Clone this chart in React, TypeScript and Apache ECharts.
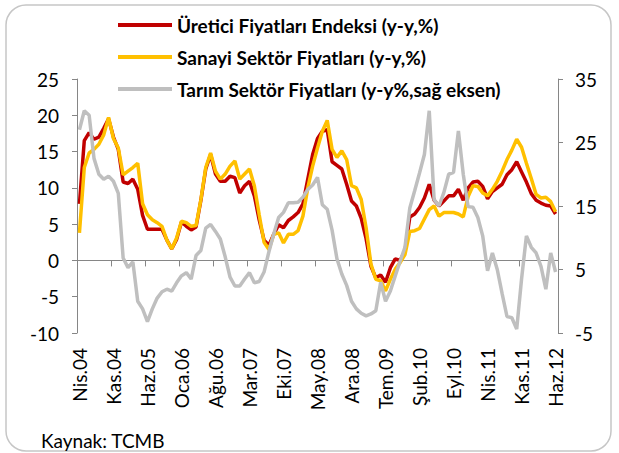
import React, { useEffect, useRef } from "react";
import * as echarts from "echarts";

const MONTHS = ["Oca", "Şub", "Mar", "Nis", "May", "Haz", "Tem", "Ağu", "Eyl", "Eki", "Kas", "Ara"];
const START_YEAR = 2004;
const START_MONTH = 3; // Nisan
const N_MONTHS = 99;
const categories: string[] = [];
for (let i = 0; i < N_MONTHS; i++) {
  const m = START_MONTH + i;
  const y = START_YEAR + Math.floor(m / 12);
  categories.push(MONTHS[m % 12] + "." + String(y % 100).padStart(2, "0"));
}

const ufe = [
  7.8, 16.5, 17.6, 16.7, 17.0, 18.2, 19.5, 17.0, 15.3, 10.8,
  10.6, 11.2, 9.8, 6.2, 4.3, 4.3, 4.3, 4.3, 2.8, 1.6,
  2.9, 5.3, 4.7, 4.2, 4.6, 8.3, 12.6, 14.6, 11.9, 10.9,
  10.9, 11.6, 11.4, 9.3, 10.3, 10.9, 8.9, 5.6, 2.8, 2.1,
  3.6, 4.9, 4.5, 5.5, 6.0, 6.6, 7.8, 11.2, 14.6, 16.8,
  17.8, 18.0, 13.6, 13.1, 12.6, 10.5, 8.2, 7.5, 5.8, 3.0,
  -0.8, -2.4, -2.0, -3.0, -1.0, 0.2, 0.0, 1.3, 6.0, 6.4,
  7.3, 8.6, 10.5, 8.3, 7.5, 8.2, 8.9, 8.9, 9.8, 8.3,
  10.0, 10.8, 10.9, 10.2, 8.5, 9.5, 10.0, 10.5, 11.8, 12.5,
  13.6, 12.2, 10.8, 9.2, 8.3, 7.9, 7.6, 7.5, 6.4,
];

const sanayi = [
  3.8, 12.8, 14.8, 15.3, 16.0, 17.3, 19.7, 16.8, 15.5, 11.8,
  12.3, 12.8, 13.4, 7.8, 6.3, 5.6, 5.2, 4.7, 2.8, 1.6,
  3.1, 5.4, 5.2, 4.7, 4.8, 8.4, 12.8, 14.8, 12.3, 11.2,
  11.9, 13.0, 13.7, 11.2, 11.9, 12.6, 10.3, 6.3, 2.5, 1.5,
  3.6, 3.8, 2.4, 3.6, 3.6, 4.1, 6.1, 10.0, 13.0, 15.5,
  17.8, 19.3, 15.3, 14.2, 15.1, 13.9, 10.3, 10.0, 8.4, 4.5,
  -0.5, -2.6, -2.8, -4.2, -2.6, -1.2, -0.3, 0.8, 4.0, 4.1,
  4.4, 5.7, 7.0, 7.5, 6.1, 6.6, 6.6, 6.6, 6.4, 6.0,
  8.8, 10.3, 10.2, 9.3, 8.9, 9.8, 10.9, 12.3, 13.9, 15.2,
  16.7, 15.6, 13.4, 11.3, 9.1, 8.6, 8.7, 8.1, 6.7,
];

const tarim = [
  27.0, 30.0, 29.3, 22.5, 20.0, 19.2, 19.7, 18.9, 17.0, 6.8,
  5.3, 6.2, 0.0, -1.2, -3.2, -1.2, 0.5, 1.5, 1.9, 1.6,
  2.9, 4.0, 4.5, 3.5, 7.2, 8.0, 11.5, 12.1, 11.0, 9.8,
  7.0, 3.8, 2.4, 2.4, 3.5, 4.5, 2.9, 3.1, 4.6, 7.8,
  10.6, 13.2, 14.0, 15.5, 15.5, 15.6, 16.4, 17.6, 18.3, 19.5,
  15.2, 14.5, 11.2, 6.7, 4.3, 2.5, 0.0, -1.2, -1.9, -2.3,
  -2.0, -1.5, 3.0, 0.0, 1.6, 4.0, 6.3, 8.5, 14.7, 17.4,
  20.2, 23.1, 30.0, 16.0, 15.0, 17.1, 20.0, 20.3, 26.8, 20.0,
  14.9, 14.8, 13.2, 10.3, 4.8, 7.6, 5.0, 1.2, -2.4, -2.6,
  -4.4, 3.5, 10.3, 8.5, 7.6, 5.5, 1.9, 7.6, 4.6,
];

const SERIES_NAMES = [
  "Üretici Fiyatları Endeksi (y-y,%)",
  "Sanayi Sektör Fiyatları (y-y,%)",
  "Tarım Sektör Fiyatları (y-y%,sağ eksen)",
];
const SOURCE_TEXT = "Kaynak: TCMB";

const FONT = "Lato";
const AXIS_COLOR = "#868686";

export default function App() {
  const ref = useRef<HTMLDivElement>(null);
  useEffect(() => {
    if (!ref.current) return;
    const chart = echarts.init(ref.current, null, { renderer: "svg" });
    const labelStyle = { fontFamily: FONT, fontSize: 19, color: "#000" };
    chart.setOption({
      animation: false,
      backgroundColor: "#fff",
      grid: { left: 77, right: 61, top: 79, bottom: 120, containLabel: false },
      legend: {
        orient: "vertical",
        left: 113,
        top: 9,
        itemWidth: 54,
        itemHeight: 4,
        itemGap: 10,
        icon: "rect",
        textStyle: { fontFamily: FONT, fontWeight: "bold", fontSize: 19, color: "#000", lineHeight: 22 },
        data: SERIES_NAMES,
      },
      xAxis: [
        {
          type: "category",
          position: "bottom",
          data: categories,
          boundaryGap: true,
          axisLine: { onZero: true, lineStyle: { color: AXIS_COLOR, width: 1 } },
          axisTick: { show: true, interval: 6, length: 6, lineStyle: { color: AXIS_COLOR } },
          axisLabel: { show: false },
          splitLine: { show: false },
        },
        {
          type: "category",
          position: "bottom",
          data: categories,
          boundaryGap: true,
          axisLine: { show: false, onZero: false },
          axisTick: { show: false },
          axisLabel: { ...labelStyle, interval: 6, rotate: 90, margin: 15 },
          splitLine: { show: false },
        },
      ],
      yAxis: [
        {
          type: "value",
          min: -10,
          max: 25,
          interval: 5,
          position: "left",
          axisLine: { show: true, lineStyle: { color: AXIS_COLOR } },
          axisTick: { show: true, length: 5, lineStyle: { color: AXIS_COLOR } },
          axisLabel: { ...labelStyle, margin: 18 },
          splitLine: { show: false },
        },
        {
          type: "value",
          min: -5,
          max: 35,
          interval: 10,
          position: "right",
          axisLine: { show: true, lineStyle: { color: AXIS_COLOR } },
          axisTick: { show: true, length: 5, lineStyle: { color: AXIS_COLOR } },
          axisLabel: { ...labelStyle, margin: 17 },
          splitLine: { show: false },
        },
      ],
      series: [
        {
          name: SERIES_NAMES[0],
          type: "line",
          data: ufe,
          yAxisIndex: 0,
          xAxisIndex: 0,
          symbol: "none",
          color: "#C00000",
          lineStyle: { color: "#C00000", width: 3.5 },
        },
        {
          name: SERIES_NAMES[1],
          type: "line",
          data: sanayi,
          yAxisIndex: 0,
          xAxisIndex: 0,
          symbol: "none",
          color: "#FFC000",
          lineStyle: { color: "#FFC000", width: 3.5 },
        },
        {
          name: SERIES_NAMES[2],
          type: "line",
          data: tarim,
          yAxisIndex: 1,
          xAxisIndex: 0,
          symbol: "none",
          color: "#BFBFBF",
          lineStyle: { color: "#BFBFBF", width: 3.5 },
        },
      ],
      graphic: [
        {
          type: "rect",
          z: -1,
          shape: { x: 6, y: 5, width: 605, height: 446, r: 20 },
          style: { fill: "none", stroke: "#C6C6C6", lineWidth: 1.5 },
        },
        {
          type: "text",
          x: 41,
          y: 440,
          style: {
            text: SOURCE_TEXT,
            fontFamily: FONT,
            fontSize: 19,
            fill: "#000",
            textVerticalAlign: "middle",
          },
        },
      ],
    });
    return () => chart.dispose();
  }, []);
  return (
    <div
      ref={ref}
      style={{ position: "fixed", left: 0, top: 0, width: 619, height: 453 }}
    />
  );
}
